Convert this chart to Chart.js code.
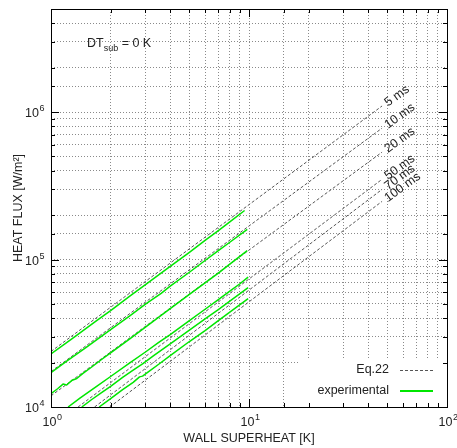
<!DOCTYPE html>
<html>
<head>
<meta charset="utf-8">
<script src="https://cdn.jsdelivr.net/npm/chart.js@4.4.0/dist/chart.umd.min.js"></script>
<style>
html, body { margin: 0; padding: 0; background: #fff; }
canvas { display: block; }
</style>
</head>
<body>
<canvas id="chart" width="457" height="448"></canvas>
<script>
// Eq.22 lines, [wall superheat K, heat flux W/m2]
const eq5   = [[1, 23800], [47, 1100000]];
const eq10  = [[1, 17400], [47, 778000]];
const eq20  = [[1, 11900], [47, 535000]];
const eq50  = [[1.37, 10000], [47, 350000]];
const eq70  = [[1.66, 10000], [47, 299000]];
const eq100 = [[1.98, 10000], [47, 248000]];
const eqNames = ['5 ms', '10 ms', '20 ms', '50 ms', '70 ms', '100 ms'];

// experimental curves
const exp5 = [[1, 22900], [1.3, 29500], [1.7, 38500], [2, 45000], [2.5, 56500], [3, 67500],
  [4, 90000], [5, 112000], [6, 135000], [7, 157000], [8, 180000], [9.5, 215000]];
const exp10 = [[1, 17100], [1.2, 20500], [1.5, 25300], [2, 33500], [2.5, 41500], [3, 49800],
  [3.6, 59000], [4, 66000], [5, 82000], [6, 98500], [7, 115000], [8, 131000], [9.8, 160000]];
const exp20 = [[1, 12300], [1.08, 13300], [1.15, 14300], [1.2, 14100], [1.28, 15200], [1.35, 15600],
  [1.45, 16900], [1.6, 18600], [1.8, 21000], [2, 23300], [2.5, 29000], [3, 34800], [4, 46500],
  [5, 58000], [6, 69500], [7, 81000], [8, 93000], [9.8, 115000]];
const exp50 = [[1.22, 10000], [1.4, 11500], [1.7, 13800], [2, 16100], [2.5, 19900], [3, 23600],
  [3.5, 27400], [4, 31000], [5, 38500], [6, 46000], [7, 53500], [8, 61000], [9, 68500], [9.9, 76000]];
const exp70 = [[1.43, 10000], [1.6, 11200], [1.8, 12500], [2, 13800], [2.3, 15900], [2.6, 17800],
  [2.9, 19600], [3.3, 22300], [4, 26800], [5, 33200], [6, 39600], [7, 45800], [8, 52200], [9.9, 64500]];
const exp100 = [[1.75, 10000], [2, 11400], [2.3, 13100], [2.6, 14700], [2.8, 16000], [2.9, 16200],
  [3.1, 17300], [3.5, 19500], [4, 22300], [5, 27800], [6, 33000], [7, 38500], [8, 44000], [9.9, 54300]];

// tick labels (powers of ten)
const xTickVals = [1, 10, 100];
const xTickExps = ['0', '1', '2'];
const yTickVals = [1e4, 1e5, 1e6];
const yTickExps = ['4', '5', '6'];

const FONT = '"Liberation Sans", Arial, sans-serif';
const textCol = '#222';
const green = '#00e600';
const dashCol = '#555';

const toXY = arr => arr.map(p => ({ x: p[0], y: p[1] }));

const expSets = [exp5, exp10, exp20, exp50, exp70, exp100].map(d => ({
  data: toXY(d), borderColor: green, borderWidth: 1.5, pointRadius: 0, tension: 0,
  borderJoinStyle: 'round'
}));
const eqSets = [eq5, eq10, eq20, eq50, eq70, eq100].map(d => ({
  data: toXY(d), borderColor: dashCol, borderWidth: 1, borderDash: [3, 2], pointRadius: 0, tension: 0
}));

function supText(ctx, base, exp, x, y, align) {
  ctx.font = '12.5px ' + FONT;
  const wb = ctx.measureText(base).width;
  ctx.font = '9px ' + FONT;
  const we = ctx.measureText(exp).width;
  let x0 = x;
  if (align === 'center') x0 = x - (wb + we) / 2;
  if (align === 'right') x0 = x - (wb + we);
  ctx.textAlign = 'left';
  ctx.textBaseline = 'alphabetic';
  ctx.font = '12.5px ' + FONT;
  ctx.fillText(base, x0, y);
  ctx.font = '9px ' + FONT;
  ctx.fillText(exp, x0 + wb + 0.5, y - 6);
}

const decor = {
  id: 'decor',
  beforeDatasetsDraw(chart) {
    const ctx = chart.ctx, a = chart.chartArea;
    // opaque key box
    ctx.save();
    ctx.fillStyle = '#fff';
    ctx.fillRect(300, 360, a.right - 300, a.bottom - 360);
    ctx.restore();
  },
  afterDraw(chart) {
    const ctx = chart.ctx, a = chart.chartArea;
    const xs = chart.scales.x, ys = chart.scales.y;
    ctx.save();

    // inner tick marks
    ctx.strokeStyle = '#000';
    ctx.lineWidth = 1;
    const isMajor = v => { const l = Math.log10(v); return Math.abs(l - Math.round(l)) < 1e-6; };
    ctx.beginPath();
    xs.ticks.forEach(t => {
      const px = Math.round(xs.getPixelForValue(t.value)) + 0.5;
      const L = isMajor(t.value) ? 8 : 4;
      ctx.moveTo(px, a.bottom); ctx.lineTo(px, a.bottom - L);
      ctx.moveTo(px, a.top); ctx.lineTo(px, a.top + L);
    });
    ys.ticks.forEach(t => {
      const py = Math.round(ys.getPixelForValue(t.value)) + 0.5;
      const L = isMajor(t.value) ? 8 : 4;
      ctx.moveTo(a.left, py); ctx.lineTo(a.left + L, py);
      ctx.moveTo(a.right, py); ctx.lineTo(a.right - L, py);
    });
    ctx.stroke();
    ctx.strokeRect(a.left + 0.5, a.top + 0.5, a.right - a.left, a.bottom - a.top);

    // tick labels
    ctx.fillStyle = textCol;
    xTickVals.forEach((v, i) => supText(ctx, '10', xTickExps[i], xs.getPixelForValue(v) + 1, a.bottom + 19, 'center'));
    yTickVals.forEach((v, i) => supText(ctx, '10', yTickExps[i], a.left - 7, ys.getPixelForValue(v) + 5, 'right'));

    // axis titles
    ctx.font = '12.5px ' + FONT;
    ctx.textAlign = 'center';
    ctx.textBaseline = 'alphabetic';
    ctx.fillText('WALL SUPERHEAT [K]', (a.left + a.right) / 2, 442);
    ctx.save();
    ctx.translate(22, (a.top + a.bottom) / 2);
    ctx.rotate(-Math.PI / 2);
    ctx.fillText('HEAT FLUX [W/m\u00B2]', 0, 0);
    ctx.restore();

    // DT_sub = 0 K
    ctx.textAlign = 'left';
    let tx = 87;
    ctx.font = '12.5px ' + FONT;
    ctx.fillText('DT', tx, 47);
    tx += ctx.measureText('DT').width;
    ctx.font = '9px ' + FONT;
    ctx.fillText('sub', tx, 50.5);
    tx += ctx.measureText('sub').width;
    ctx.font = '12.5px ' + FONT;
    ctx.fillText(' = 0 K', tx, 47);

    // line labels at the end of Eq.22 lines
    ctx.font = '12.5px ' + FONT;
    ctx.textBaseline = 'middle';
    eqNames.forEach((name, i) => {
      const meta = chart.getDatasetMeta(expSets.length + i);
      const pt = meta.data[meta.data.length - 1];
      ctx.save();
      ctx.translate(pt.x + 4, pt.y - 2);
      ctx.rotate(-36 * Math.PI / 180);
      ctx.fillText(name, 0, 0);
      ctx.restore();
    });

    // key
    ctx.textAlign = 'right';
    ctx.textBaseline = 'middle';
    ctx.fillText('Eq.22', 389, 370);
    ctx.fillText('experimental', 389, 391);
    ctx.strokeStyle = dashCol;
    ctx.lineWidth = 1;
    ctx.setLineDash([3, 2]);
    ctx.beginPath(); ctx.moveTo(400, 370.5); ctx.lineTo(433, 370.5); ctx.stroke();
    ctx.setLineDash([]);
    ctx.strokeStyle = green;
    ctx.lineWidth = 2;
    ctx.beginPath(); ctx.moveTo(400, 391); ctx.lineTo(433, 391); ctx.stroke();

    ctx.restore();
  }
};

new Chart(document.getElementById('chart'), {
  type: 'line',
  data: { datasets: expSets.concat(eqSets) },
  options: {
    responsive: false,
    animation: false,
    devicePixelRatio: 1,
    parsing: true,
    layout: { padding: { left: 51, top: 9, right: 10, bottom: 41 } },
    plugins: { legend: { display: false }, tooltip: { enabled: false } },
    scales: {
      x: {
        type: 'logarithmic', min: 1, max: 100,
        grid: { color: '#8a8a8a', lineWidth: 1, drawTicks: false },
        border: { display: false, dash: [1, 2] },
        ticks: { display: false, autoSkip: false }
      },
      y: {
        type: 'logarithmic', min: 1e4, max: 5e6,
        grid: { color: '#8a8a8a', lineWidth: 1, drawTicks: false },
        border: { display: false, dash: [1, 2] },
        ticks: { display: false, autoSkip: false }
      }
    }
  },
  plugins: [decor]
});
</script>
</body>
</html>
